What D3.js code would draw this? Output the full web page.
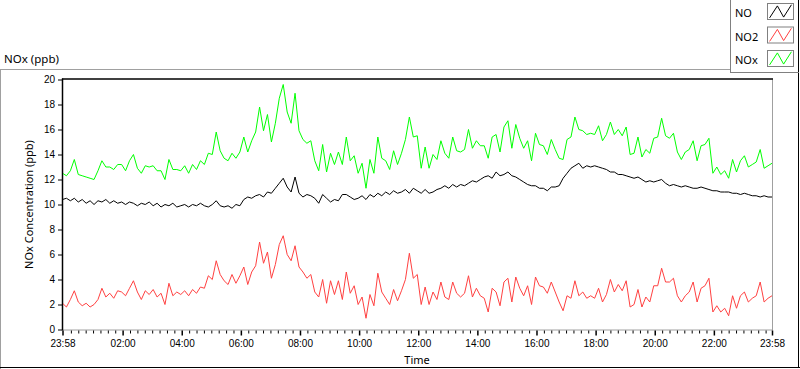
<!DOCTYPE html>
<html>
<head>
<meta charset="utf-8">
<script src="https://cdn.jsdelivr.net/npm/d3@7"></script>
<style>
    body { margin: 0; background: #fff; }
    svg { display: block; font-family: 'Noto Sans', 'Open Sans', sans-serif; }
    .axis path.domain { display: none; }
    .axis line { stroke: #000; }
    .axis text { fill: #000; font-size: 10px; }
</style>
</head>
<body>
<svg id="chart"></svg>
<script>
// samples every 8 minutes, from 23:58 to 23:58 the next day
const START = new Date(2000, 0, 1, 23, 58)
const STEP_MINUTES = 8

const no = [
    10.4, 10.5, 10.3, 10.5, 10.2, 10.4, 10.1, 10.3, 10.0, 10.3, 10.2, 10.4, 10.1, 10.3, 10.1,
    10.2, 10.0, 10.2, 10.1, 9.9, 10.1, 10.0, 10.2, 9.9, 10.1, 9.8, 10.0, 9.9, 10.1, 9.8,
    9.9, 10.0, 9.8, 10.0, 9.9, 10.1, 9.9, 9.8, 10.0, 10.3, 9.9, 9.8, 9.9, 9.7, 10.0,
    9.9, 10.4, 10.6, 10.5, 10.7, 10.8, 10.6, 11.0, 10.9, 11.3, 11.7, 12.1, 11.4, 11.0, 12.2,
    10.9, 10.6, 10.8, 10.7, 10.5, 10.1, 10.8, 10.5, 10.2, 10.4, 10.3, 10.8, 10.8, 10.6, 10.4,
    10.5, 10.7, 10.4, 10.8, 10.6, 10.9, 10.7, 11.0, 10.8, 11.1, 10.9, 11.0, 11.2, 10.9, 11.3,
    11.1, 10.9, 11.2, 10.9, 11.0, 11.2, 11.3, 11.5, 11.3, 11.6, 11.4, 11.6, 11.5, 11.7, 11.9,
    11.8, 12.0, 12.2, 12.3, 12.1, 12.6, 12.3, 12.4, 12.6, 12.3, 12.2, 12.0, 11.8, 11.6, 11.5,
    11.5, 11.3, 11.3, 11.1, 11.4, 11.4, 11.5, 12.1, 12.5, 12.9, 13.1, 13.3, 12.9, 13.1, 13.0,
    13.1, 13.0, 12.9, 12.8, 12.6, 12.6, 12.4, 12.4, 12.3, 12.2, 12.1, 12.2, 12.0, 11.8, 11.9,
    11.8, 11.9, 12.0, 11.7, 11.5, 11.6, 11.5, 11.4, 11.5, 11.4, 11.3, 11.3, 11.4, 11.3, 11.2,
    11.1, 11.1, 11.0, 11.0, 11.0, 10.9, 10.9, 10.8, 10.9, 10.8, 10.7, 10.7, 10.6, 10.7, 10.6, 10.6
]

const no2 = [
    2.1, 1.8, 2.4, 3.1, 2.2, 1.9, 2.1, 1.8, 2.0, 2.4, 3.3, 2.6, 2.9, 2.5, 3.1,
    3.0, 2.7, 3.3, 3.9, 3.0, 2.4, 3.1, 2.8, 3.2, 2.6, 2.9, 2.0, 3.7, 2.7, 3.0,
    2.8, 3.1, 2.7, 3.2, 2.9, 3.4, 3.3, 4.3, 4.0, 5.5, 4.4, 3.9, 3.6, 4.4, 3.7,
    4.3, 5.0, 3.6, 4.6, 5.1, 7.0, 5.3, 6.2, 4.1, 5.2, 6.8, 7.5, 6.0, 5.5, 6.7,
    5.0, 4.6, 4.1, 4.4, 3.0, 2.6, 4.0, 2.1, 3.9, 2.8, 3.9, 2.4, 4.6, 2.9, 3.5,
    2.0, 2.6, 0.9, 2.8, 1.9, 4.5, 3.0, 2.5, 2.0, 3.2, 2.3, 3.1, 4.0, 6.1, 4.1,
    4.4, 2.0, 3.4, 2.0, 3.0, 2.4, 3.8, 2.6, 2.4, 3.8, 2.9, 2.6, 2.9, 4.3, 2.6,
    3.3, 2.7, 2.5, 1.4, 3.3, 3.0, 1.9, 3.8, 4.1, 2.2, 4.2, 3.3, 2.7, 3.5, 2.0,
    4.2, 3.5, 3.4, 2.9, 3.8, 3.0, 2.2, 1.5, 2.7, 2.5, 3.9, 2.7, 3.0, 2.5, 2.7,
    2.5, 3.3, 2.2, 2.8, 4.0, 3.0, 3.6, 3.1, 3.9, 1.8, 2.0, 3.2, 1.8, 2.6, 2.2,
    3.5, 3.5, 4.9, 3.8, 3.8, 4.1, 2.7, 2.2, 2.7, 3.0, 3.8, 2.2, 3.3, 3.5, 4.1,
    1.4, 1.9, 1.4, 1.7, 1.1, 2.7, 1.7, 2.7, 3.0, 2.2, 2.5, 2.7, 3.8, 2.2, 2.5, 2.7
]

const nox = [
    12.5, 12.3, 12.7, 13.6, 12.4, 12.3, 12.2, 12.1, 12.0, 12.7, 13.5, 13.0, 13.0, 12.8, 13.2,
    13.2, 12.7, 13.5, 14.0, 12.9, 12.5, 13.1, 13.0, 13.1, 12.7, 12.7, 12.0, 13.6, 12.8, 12.8,
    12.7, 13.1, 12.5, 13.2, 12.8, 13.5, 13.2, 14.1, 14.0, 15.8, 14.3, 13.7, 13.5, 14.1, 13.7,
    14.2, 15.4, 14.2, 15.1, 15.8, 17.8, 15.9, 17.2, 15.0, 16.5, 18.5, 19.6, 17.4, 16.5, 18.9,
    15.9, 15.2, 14.9, 15.1, 13.5, 12.7, 14.8, 12.6, 14.1, 13.2, 14.2, 13.2, 15.4, 13.5, 13.9,
    12.5, 13.3, 11.3, 13.6, 12.5, 15.4, 13.7, 13.5, 12.8, 14.3, 13.2, 14.1, 15.2, 17.0, 15.4,
    15.5, 12.9, 14.6, 12.9, 14.0, 13.6, 15.1, 14.1, 13.7, 15.4, 14.3, 14.2, 14.4, 16.0, 14.5,
    15.1, 14.7, 14.7, 13.7, 15.4, 15.6, 14.2, 16.2, 16.7, 14.5, 16.4, 15.3, 14.5, 15.1, 13.5,
    15.7, 14.8, 14.7, 14.0, 15.2, 14.4, 13.7, 13.6, 15.2, 15.4, 17.0, 16.0, 15.9, 15.6, 15.7,
    15.6, 16.3, 15.1, 15.6, 16.6, 15.6, 16.0, 15.5, 16.2, 14.0, 14.1, 15.4, 13.8, 14.4, 14.1,
    15.3, 15.4, 16.9, 15.5, 15.3, 15.7, 14.2, 13.6, 14.2, 14.4, 15.1, 13.5, 14.7, 14.8, 15.3,
    12.5, 13.0, 12.4, 12.7, 12.1, 13.6, 12.6, 13.5, 13.9, 13.0, 13.2, 13.4, 14.4, 12.9, 13.1, 13.3
]

const seriesNames = ['NO', 'NO2', 'NOx']
const seriesColors = ['#000000', '#ff4040', '#00ff00']
const yTicks = [0, 2, 4, 6, 8, 10, 12, 14, 16, 18, 20]
const xTickLabels = ['23:58', '02:00', '04:00', '06:00', '08:00', '10:00', '12:00',
    '14:00', '16:00', '18:00', '20:00', '22:00', '23:58']

const WIDTH = 800
const HEIGHT = 369
const PLOT = { left: 62, right: 772, top: 79.5, bottom: 329.5 }

const timeAt = i => d3.timeMinute.offset(START, i * STEP_MINUTES)
const END = d3.timeHour.offset(START, 24)
const tickTime = (label, i) => {
    const [h, m] = label.split(':').map(Number)
    return new Date(2000, 0, i === 0 ? 1 : 2, h, m)
}
const majorTicks = xTickLabels.map(tickTime)
const minorTicks = d3.timeMinute.every(15).range(START, END)
    .filter(t => majorTicks.every(m => Math.abs(t - m) > 3 * 60000))

const svg = d3.select('#chart')
    .attr('width', WIDTH)
    .attr('height', HEIGHT)
    .attr('viewBox', `0 0 ${WIDTH} ${HEIGHT}`)

const xScale = d3.scaleTime().domain([START, END]).range([PLOT.left + 0.5, PLOT.right])
const yScale = d3.scaleLinear().domain([0, 20]).range([PLOT.bottom, PLOT.top])

// outer panel frame
svg.append('line').attr('x1', 0).attr('x2', 731).attr('y1', 69.5).attr('y2', 69.5).attr('stroke', '#a0a0a0')
svg.append('line').attr('x1', 0.5).attr('x2', 0.5).attr('y1', 69).attr('y2', HEIGHT).attr('stroke', '#a0a0a0')
svg.append('line').attr('x1', 0).attr('x2', WIDTH).attr('y1', 367.5).attr('y2', 367.5).attr('stroke', '#000')
svg.append('line').attr('x1', 798.5).attr('x2', 798.5).attr('y1', 0).attr('y2', 368).attr('stroke', '#000')

svg.append('text')
    .attr('x', 4).attr('y', 63)
    .attr('font-size', 11.5)
    .text('NOx (ppb)')

// plot frame: dark top/left, light bottom/right
svg.append('line').attr('x1', PLOT.left).attr('x2', PLOT.right).attr('y1', PLOT.bottom + 0.5).attr('y2', PLOT.bottom + 0.5).attr('stroke', '#a0a0a0')
svg.append('line').attr('x1', PLOT.right + 0.5).attr('x2', PLOT.right + 0.5).attr('y1', PLOT.top).attr('y2', PLOT.bottom + 1).attr('stroke', '#a0a0a0')
svg.append('line').attr('x1', PLOT.left).attr('x2', PLOT.right + 1).attr('y1', PLOT.top - 0.5).attr('y2', PLOT.top - 0.5).attr('stroke', '#000').attr('stroke-width', 1.5)
svg.append('line').attr('x1', PLOT.left + 0.5).attr('x2', PLOT.left + 0.5).attr('y1', PLOT.top - 1).attr('y2', PLOT.bottom + 1).attr('stroke', '#000').attr('stroke-width', 1.5)

svg.append('clipPath').attr('id', 'plot-clip')
    .append('rect')
    .attr('x', PLOT.left + 1).attr('y', PLOT.top)
    .attr('width', PLOT.right - PLOT.left - 1).attr('height', PLOT.bottom - PLOT.top)

// axes
svg.append('g').classed('axis axis--y', true)
    .attr('transform', `translate(${PLOT.left},0)`)
    .call(d3.axisLeft(yScale).tickValues(yTicks).tickSize(4).tickPadding(3))

svg.append('g').classed('axis axis--x-minor', true)
    .attr('transform', `translate(0,${PLOT.bottom + 1})`)
    .call(d3.axisBottom(xScale).tickValues(minorTicks).tickSize(3).tickFormat(''))

svg.append('g').classed('axis axis--x', true)
    .attr('transform', `translate(0,${PLOT.bottom + 1})`)
    .call(d3.axisBottom(xScale).tickValues(majorTicks).tickSize(5).tickPadding(4)
        .tickFormat((d, i) => xTickLabels[i]))

svg.selectAll('.axis--x .tick line').attr('stroke-width', 1.5)

svg.append('text')
    .attr('transform', `translate(33,${(PLOT.top + PLOT.bottom) / 2}) rotate(-90)`)
    .attr('text-anchor', 'middle')
    .attr('font-size', 11)
    .text('NOx Concentration (ppb)')

svg.append('text')
    .attr('x', (PLOT.left + PLOT.right) / 2).attr('y', 364)
    .attr('text-anchor', 'middle')
    .attr('font-size', 11)
    .text('Time')

// series
const line = d3.line()
    .x((d, i) => xScale(timeAt(i)))
    .y(d => yScale(d))

const plots = svg.append('g').attr('clip-path', 'url(#plot-clip)')
;[no, no2, nox].forEach((values, k) => {
    plots.append('path')
        .datum(values)
        .attr('d', line)
        .attr('fill', 'none')
        .attr('stroke', seriesColors[k])
        .attr('stroke-width', 1)
})

// legend
const legend = svg.append('g').classed('legend', true)
legend.append('line').attr('x1', 730.5).attr('x2', 730.5).attr('y1', 0).attr('y2', 72).attr('stroke', '#808080')
legend.append('line').attr('x1', 730).attr('x2', 799).attr('y1', 72.5).attr('y2', 72.5).attr('stroke', '#808080')

const swatchX = d3.scaleLinear().domain([0, 1]).range([0, 26])
const swatchY = d3.scaleLinear().domain([0, 1]).range([16, 0])
const zigzag = d3.line().x(d => swatchX(d[0])).y(d => swatchY(d[1]))
const zigzagShape = [[0.08, 0.1], [0.38, 0.85], [0.62, 0.15], [0.92, 0.92]]

seriesNames.forEach((name, k) => {
    const row = legend.append('g').attr('transform', `translate(0,${3 + k * 23.5})`)
    row.append('text')
        .attr('x', 735).attr('y', 14)
        .attr('font-size', 11)
        .text(name)
    const sw = row.append('g').attr('transform', 'translate(767.5,0.5)')
    sw.append('rect')
        .attr('width', 26).attr('height', 16)
        .attr('fill', '#fff').attr('stroke', '#808080')
    sw.append('path')
        .attr('d', zigzag(zigzagShape))
        .attr('fill', 'none')
        .attr('stroke', seriesColors[k])
})
</script>
</body>
</html>
